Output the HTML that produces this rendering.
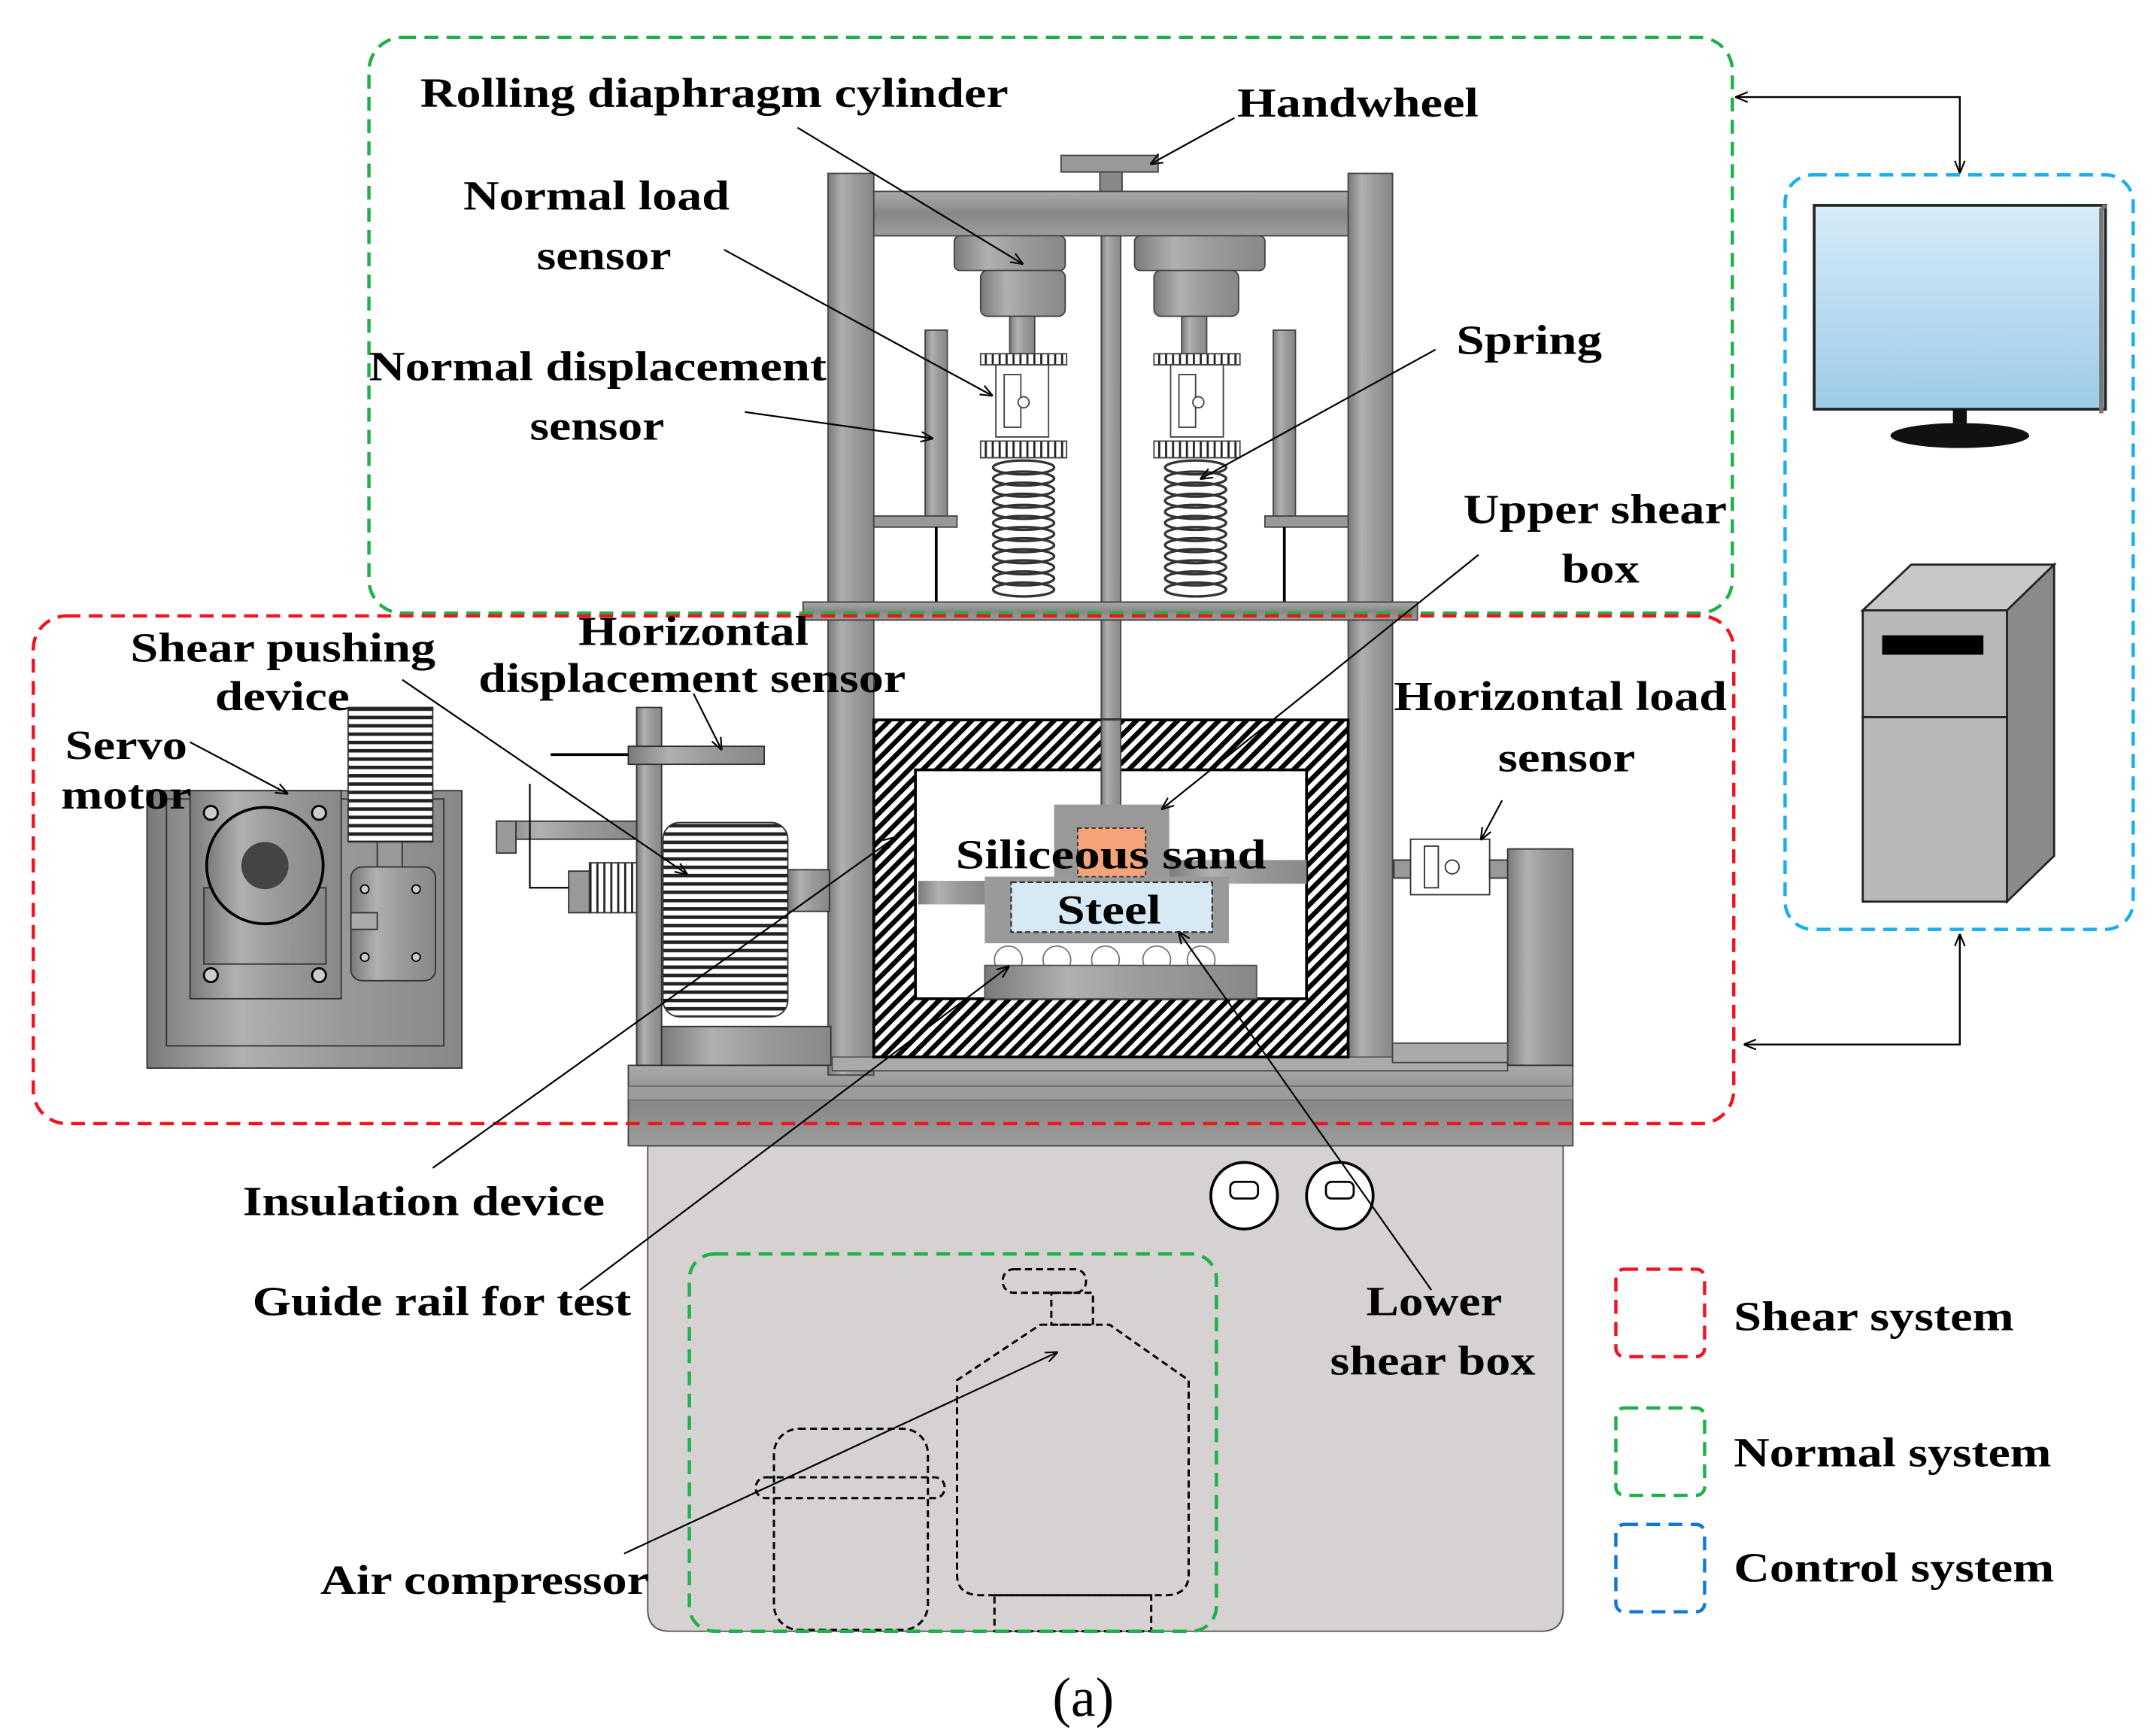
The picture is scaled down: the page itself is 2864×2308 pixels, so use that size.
<!DOCTYPE html>
<html><head><meta charset="utf-8"><style>
html,body{margin:0;padding:0;background:#fff;}
svg{display:block;}
text{font-family:"Liberation Serif","Times New Roman",serif;font-weight:bold;fill:#000;}
</style></head><body>
<svg width="2864" height="2308" viewBox="0 0 1553 1251.5" preserveAspectRatio="none" xmlns="http://www.w3.org/2000/svg">
<defs>
<linearGradient id="m" x1="0" x2="1" y1="0" y2="0">
<stop offset="0" stop-color="#7a7a7a"/><stop offset="0.3" stop-color="#b0b0b0"/><stop offset="0.6" stop-color="#9a9a9a"/><stop offset="1" stop-color="#888"/></linearGradient>
<linearGradient id="mv" x1="0" x2="0" y1="0" y2="1">
<stop offset="0" stop-color="#aaa"/><stop offset="0.5" stop-color="#888"/><stop offset="1" stop-color="#9d9d9d"/></linearGradient>
<linearGradient id="scr" x1="0" x2="0" y1="0" y2="1">
<stop offset="0" stop-color="#d6ecf8"/><stop offset="1" stop-color="#9ccbe8"/></linearGradient>
<pattern id="hatch" width="7" height="7" patternUnits="userSpaceOnUse" patternTransform="rotate(45)">
<rect width="7" height="7" fill="#fff"/><rect width="3.5" height="7" fill="#000"/></pattern>
<pattern id="hs" width="6" height="6" patternUnits="userSpaceOnUse">
<rect width="6" height="6" fill="#fff"/><rect width="6" height="2.5" fill="#222"/></pattern>
<pattern id="vs" width="5" height="5" patternUnits="userSpaceOnUse">
<rect width="5" height="5" fill="#fff"/><rect width="1.5" height="5" fill="#222"/></pattern>
<marker id="ar" viewBox="0 0 10 10" refX="9" refY="5" markerWidth="9" markerHeight="9" orient="auto-start-reverse" markerUnits="userSpaceOnUse">
<path d="M0,1 L10,5 L0,9" fill="none" stroke="#000" stroke-width="1.3"/></marker>
</defs>

<!-- base cabinet -->
<path d="M467,826 H1127 V1160 Q1127,1176 1111,1176 H483 Q467,1176 467,1160 Z" fill="#d6d2d2" stroke="#555" stroke-width="1"/>
<rect x="453" y="768" width="681" height="58" fill="url(#mv)" stroke="#444"/>
<rect x="453" y="783" width="681" height="10" fill="#9c9c9c" stroke="#555" stroke-width="0.6"/>
<circle cx="897" cy="862" r="24" fill="#fff" stroke="#000" stroke-width="2"/>
<rect x="887" y="852" width="20" height="12" rx="4" fill="#fff" stroke="#000" stroke-width="1.5"/>
<circle cx="966" cy="862" r="24" fill="#fff" stroke="#000" stroke-width="2"/>
<rect x="956" y="852" width="20" height="12" rx="4" fill="#fff" stroke="#000" stroke-width="1.5"/>

<!-- dashed tanks -->
<g fill="none" stroke="#000" stroke-width="1.6" stroke-dasharray="5,3">
<rect x="558" y="1030" width="111" height="145" rx="18"/>
<rect x="545" y="1065" width="136" height="15" rx="7"/>
<rect x="723" y="915" width="60" height="17" rx="8"/>
<rect x="758" y="932" width="30" height="23"/>
<path d="M750,955 H800 L857,995 V1135 Q857,1150 840,1150 H707 Q690,1150 690,1135 V995 Z"/>
<rect x="717" y="1150" width="113" height="26"/>
</g>

<!-- frame posts -->
<rect x="597" y="125" width="33" height="650" fill="url(#m)" stroke="#444"/>
<rect x="972" y="125" width="32" height="640" fill="url(#m)" stroke="#444"/>
<rect x="600" y="762" width="487" height="10" fill="#aaa" stroke="#444" stroke-width="0.8"/>
<rect x="630" y="138" width="342" height="32" fill="url(#mv)" stroke="#444"/>
<rect x="765" y="112" width="70" height="12" fill="#999" stroke="#444"/>
<rect x="793" y="124" width="16" height="14" fill="#888" stroke="#444"/>
<rect x="794" y="170" width="14" height="412" fill="url(#m)" stroke="#444"/>
<g fill="url(#m)" stroke="#444">
<rect x="688" y="170" width="80" height="25" rx="4"/>
<rect x="707" y="195" width="61" height="33" rx="5"/>
<rect x="728" y="228" width="18" height="27"/>
<rect x="818" y="170" width="94" height="25" rx="4"/>
<rect x="832" y="195" width="61" height="33" rx="5"/>
<rect x="852" y="228" width="18" height="27"/>
</g>
<g stroke="#444" stroke-width="1">
<rect x="707" y="255" width="62" height="8" fill="url(#vs)"/>
<rect x="718" y="263" width="38" height="52" fill="#fff"/>
<rect x="724" y="270" width="12" height="38" fill="#fff"/>
<circle cx="738" cy="290" r="4" fill="#fff"/>
<rect x="707" y="318" width="62" height="12" fill="url(#vs)"/>
<rect x="832" y="255" width="62" height="8" fill="url(#vs)"/>
<rect x="844" y="263" width="38" height="52" fill="#fff"/>
<rect x="850" y="270" width="12" height="38" fill="#fff"/>
<circle cx="864" cy="290" r="4" fill="#fff"/>
<rect x="832" y="318" width="62" height="12" fill="url(#vs)"/>
</g>
<!-- springs -->
<g fill="none" stroke="#333" stroke-width="1.8">
<ellipse cx="738" cy="337" rx="22" ry="5"/><ellipse cx="738" cy="345" rx="22" ry="5"/><ellipse cx="738" cy="353" rx="22" ry="5"/><ellipse cx="738" cy="361" rx="22" ry="5"/><ellipse cx="738" cy="369" rx="22" ry="5"/><ellipse cx="738" cy="377" rx="22" ry="5"/><ellipse cx="738" cy="385" rx="22" ry="5"/><ellipse cx="738" cy="393" rx="22" ry="5"/><ellipse cx="738" cy="401" rx="22" ry="5"/><ellipse cx="738" cy="409" rx="22" ry="5"/><ellipse cx="738" cy="417" rx="22" ry="5"/><ellipse cx="738" cy="425" rx="22" ry="5"/>
<ellipse cx="862" cy="337" rx="22" ry="5"/><ellipse cx="862" cy="345" rx="22" ry="5"/><ellipse cx="862" cy="353" rx="22" ry="5"/><ellipse cx="862" cy="361" rx="22" ry="5"/><ellipse cx="862" cy="369" rx="22" ry="5"/><ellipse cx="862" cy="377" rx="22" ry="5"/><ellipse cx="862" cy="385" rx="22" ry="5"/><ellipse cx="862" cy="393" rx="22" ry="5"/><ellipse cx="862" cy="401" rx="22" ry="5"/><ellipse cx="862" cy="409" rx="22" ry="5"/><ellipse cx="862" cy="417" rx="22" ry="5"/><ellipse cx="862" cy="425" rx="22" ry="5"/>
</g>
<rect x="667" y="238" width="16" height="137" fill="url(#m)" stroke="#444"/>
<rect x="918" y="238" width="16" height="137" fill="url(#m)" stroke="#444"/>
<rect x="630" y="372" width="60" height="8" fill="#999" stroke="#444"/>
<rect x="912" y="372" width="60" height="8" fill="#999" stroke="#444"/>
<line x1="675" y1="380" x2="675" y2="434" stroke="#000" stroke-width="2"/>
<line x1="926" y1="380" x2="926" y2="434" stroke="#000" stroke-width="2"/>
<rect x="579" y="434" width="443" height="13" fill="url(#mv)" stroke="#444"/>

<!-- insulation box -->
<rect x="630" y="519" width="342" height="243" fill="url(#hatch)" stroke="#000" stroke-width="2"/>
<rect x="660" y="555" width="282" height="165" fill="#fff" stroke="#000" stroke-width="2"/>
<rect x="794" y="519" width="14" height="62" fill="url(#m)" stroke="#444"/>
<rect x="662" y="635" width="48" height="17" fill="url(#m)"/>
<rect x="843" y="620" width="99" height="17" fill="url(#m)"/>
<rect x="760" y="580" width="83" height="55" fill="#999"/>
<rect x="710" y="632" width="176" height="48" fill="#9a9a9a"/>
<rect x="777" y="597" width="49" height="35" fill="#f5a47a" stroke="#333" stroke-dasharray="3,2"/>
<rect x="729" y="636" width="145" height="36" fill="#d8e9f6" stroke="#333" stroke-width="1.2" stroke-dasharray="4,2"/>
<g fill="#fff" stroke="#777">
<circle cx="727" cy="692" r="10"/><circle cx="762" cy="692" r="10"/><circle cx="797" cy="692" r="10"/><circle cx="834" cy="692" r="10"/><circle cx="866" cy="692" r="10"/>
</g>
<rect x="710" y="696" width="196" height="24" fill="url(#m)" stroke="#555"/>

<!-- left machinery -->
<rect x="106" y="570" width="227" height="200" fill="url(#m)" stroke="#333"/>
<rect x="120" y="576" width="200" height="178" fill="none" stroke="#333"/>
<rect x="137" y="570" width="109" height="150" fill="url(#m)" stroke="#333"/>
<rect x="147" y="640" width="88" height="55" fill="url(#m)" stroke="#333"/>
<circle cx="191" cy="624" r="42" fill="url(#m)" stroke="#000" stroke-width="2"/>
<circle cx="191" cy="624" r="17" fill="#444"/>
<g fill="#ccc" stroke="#000" stroke-width="1.5">
<circle cx="152" cy="586" r="5"/><circle cx="230" cy="586" r="5"/><circle cx="152" cy="703" r="5"/><circle cx="230" cy="703" r="5"/></g>
<rect x="251" y="510" width="61" height="97" fill="url(#hs)" stroke="#333"/>
<rect x="272" y="607" width="18" height="22" fill="#999" stroke="#333"/>
<rect x="253" y="625" width="61" height="82" rx="8" fill="url(#m)" stroke="#333"/>
<rect x="253" y="658" width="19" height="12" fill="#aaa" stroke="#333"/>
<g fill="#ccc" stroke="#000"><circle cx="263" cy="641" r="3"/><circle cx="300" cy="641" r="3"/><circle cx="263" cy="690" r="3"/><circle cx="300" cy="690" r="3"/></g>

<rect x="459" y="510" width="18" height="258" fill="url(#m)" stroke="#333"/>
<rect x="453" y="538" width="98" height="13" fill="url(#m)" stroke="#333"/>
<line x1="397" y1="544" x2="453" y2="544" stroke="#000" stroke-width="2"/>
<rect x="358" y="592" width="101" height="13" fill="url(#m)" stroke="#333"/>
<rect x="358" y="592" width="14" height="23" fill="#999" stroke="#333"/>
<path d="M382,565 V640 H410" fill="none" stroke="#000" stroke-width="1.2"/>
<rect x="410" y="628" width="15" height="30" fill="#999" stroke="#333"/>
<rect x="425" y="622" width="34" height="36" fill="url(#vs)" stroke="#333"/>
<rect x="478" y="593" width="90" height="140" rx="12" fill="url(#hs)" stroke="#333"/>
<rect x="568" y="627" width="30" height="30" fill="url(#m)" stroke="#333"/>
<rect x="477" y="740" width="122" height="28" fill="url(#m)" stroke="#333"/>

<!-- right -->
<rect x="1005" y="620" width="13" height="13" fill="#999" stroke="#333"/>
<rect x="1017" y="605" width="57" height="40" fill="#fff" stroke="#333"/>
<rect x="1027" y="610" width="10" height="30" fill="#fff" stroke="#333"/>
<circle cx="1047" cy="625" r="5" fill="#fff" stroke="#333"/>
<rect x="1074" y="620" width="13" height="13" fill="#999" stroke="#333"/>
<rect x="1087" y="612" width="47" height="156" fill="url(#m)" stroke="#333"/>
<rect x="1004" y="752" width="83" height="14" fill="#aaa" stroke="#444"/>

<!-- dashed groups -->
<g fill="none" stroke-width="2.4" stroke-dasharray="10,6">
<rect x="266" y="27" width="983" height="415" rx="24" stroke="#1fb04a"/>
<rect x="24" y="444" width="1226" height="366" rx="24" stroke="#f0141e"/>
<rect x="1287" y="126" width="251" height="544" rx="20" stroke="#18aef0"/>
<rect x="497" y="904" width="380" height="272" rx="18" stroke="#1fb04a"/>
<rect x="1165" y="915" width="64" height="63" rx="6" stroke="#f0141e"/>
<rect x="1165" y="1015" width="64" height="63" rx="6" stroke="#1fb04a"/>
<rect x="1165" y="1099" width="64" height="63" rx="6" stroke="#1077d8"/>
</g>

<!-- computer -->
<rect x="1308" y="148" width="210" height="147" fill="url(#scr)" stroke="#222" stroke-width="2"/>
<path d="M1518,148 l-3,3 v147" fill="none" stroke="#777" stroke-width="3"/>
<rect x="1408" y="295" width="10" height="14" fill="#111"/>
<ellipse cx="1413" cy="314" rx="50" ry="9" fill="#111"/>
<path d="M1343,440 L1378,407 H1481 L1447,440 Z" fill="#c8c8c8" stroke="#222" stroke-width="1.5"/>
<path d="M1447,440 L1481,407 V617 L1447,650 Z" fill="#8a8a8a" stroke="#222" stroke-width="1.5"/>
<rect x="1343" y="440" width="104" height="210" fill="#b8b8b8" stroke="#222" stroke-width="1.5"/>
<line x1="1343" y1="517" x2="1447" y2="517" stroke="#222" stroke-width="1.5"/>
<rect x="1357" y="458" width="73" height="14" fill="#000"/>

<g fill="none" stroke="#000" stroke-width="1.3">
<path d="M1252,70 H1413 V124" marker-start="url(#ar)" marker-end="url(#ar)"/>
<path d="M1413,674 V753 H1258" marker-start="url(#ar)" marker-end="url(#ar)"/>
</g>

<g stroke="#000" stroke-width="1.2" marker-end="url(#ar)">
<line x1="575" y1="92" x2="737" y2="190"/>
<line x1="890" y1="85" x2="830" y2="118"/>
<line x1="522" y1="180" x2="715" y2="285"/>
<line x1="537" y1="297" x2="672" y2="316"/>
<line x1="1035" y1="252" x2="866" y2="345"/>
<line x1="1066" y1="400" x2="838" y2="583"/>
<line x1="290" y1="490" x2="495" y2="630"/>
<line x1="500" y1="500" x2="520" y2="540"/>
<line x1="137" y1="535" x2="207" y2="572"/>
<line x1="1083" y1="577" x2="1068" y2="605"/>
<line x1="312" y1="842" x2="645" y2="604"/>
<line x1="418" y1="930" x2="727" y2="697"/>
<line x1="1032" y1="930" x2="850" y2="672"/>
<line x1="450" y1="1120" x2="762" y2="975"/>
</g>

<g font-size="30">
<text x="303" y="77" textLength="424" lengthAdjust="spacingAndGlyphs">Rolling diaphragm cylinder</text>
<text x="892" y="84" textLength="174" lengthAdjust="spacingAndGlyphs">Handwheel</text>
<text x="334" y="151" textLength="192" lengthAdjust="spacingAndGlyphs">Normal load</text>
<text x="387" y="194" textLength="97" lengthAdjust="spacingAndGlyphs">sensor</text>
<text x="266" y="274" textLength="330" lengthAdjust="spacingAndGlyphs">Normal displacement</text>
<text x="382" y="317" textLength="97" lengthAdjust="spacingAndGlyphs">sensor</text>
<text x="1050" y="255" textLength="105" lengthAdjust="spacingAndGlyphs">Spring</text>
<text x="1055" y="377" textLength="190" lengthAdjust="spacingAndGlyphs">Upper shear</text>
<text x="1126" y="420" textLength="56" lengthAdjust="spacingAndGlyphs">box</text>
<text x="94" y="477" textLength="220" lengthAdjust="spacingAndGlyphs">Shear pushing</text>
<text x="155" y="512" textLength="97" lengthAdjust="spacingAndGlyphs">device</text>
<text x="417" y="465" textLength="166" lengthAdjust="spacingAndGlyphs">Horizontal</text>
<text x="345" y="499" textLength="308" lengthAdjust="spacingAndGlyphs">displacement sensor</text>
<text x="47" y="547" textLength="88" lengthAdjust="spacingAndGlyphs">Servo</text>
<text x="44" y="583" textLength="94" lengthAdjust="spacingAndGlyphs">motor</text>
<text x="1005" y="512" textLength="240" lengthAdjust="spacingAndGlyphs">Horizontal load</text>
<text x="1080" y="556" textLength="99" lengthAdjust="spacingAndGlyphs">sensor</text>
<text x="689" y="626" textLength="224" lengthAdjust="spacingAndGlyphs">Siliceous  sand</text>
<text x="762" y="666" textLength="75" lengthAdjust="spacingAndGlyphs">Steel</text>
<text x="175" y="876" textLength="261" lengthAdjust="spacingAndGlyphs">Insulation device</text>
<text x="182" y="948" textLength="273" lengthAdjust="spacingAndGlyphs">Guide rail for test</text>
<text x="985" y="948" textLength="98" lengthAdjust="spacingAndGlyphs">Lower</text>
<text x="959" y="991" textLength="148" lengthAdjust="spacingAndGlyphs">shear box</text>
<text x="231" y="1149" textLength="237" lengthAdjust="spacingAndGlyphs">Air compressor</text>
<text x="1250" y="959" textLength="202" lengthAdjust="spacingAndGlyphs">Shear system</text>
<text x="1250" y="1057" textLength="229" lengthAdjust="spacingAndGlyphs">Normal system</text>
<text x="1250" y="1140" textLength="231" lengthAdjust="spacingAndGlyphs">Control system</text>
</g>
<text x="781" y="1237" font-size="40" text-anchor="middle" style="font-weight:normal">(a)</text>
</svg>
</body></html>
